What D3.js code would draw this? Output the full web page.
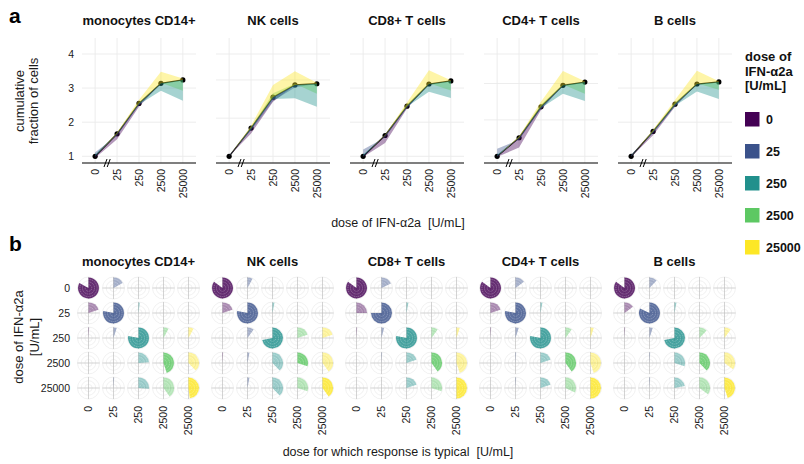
<!DOCTYPE html>
<html>
<head>
<meta charset="utf-8">
<script src="https://cdn.jsdelivr.net/npm/d3@7"></script>
<style>
  html, body { margin: 0; padding: 0; background: #fff; }
  svg { display: block; font-family: "Liberation Sans", Arial, Helvetica, sans-serif; }
</style>
</head>
<body>
<svg id="chart" width="804" height="464"></svg>
<script>
// ---- data ----------------------------------------------------------------
const cellTypes = ["monocytes CD14+", "NK cells", "CD8+ T cells", "CD4+ T cells", "B cells"];
const doses = ["0", "25", "250", "2500", "25000"];
const doseColors = ["#440154", "#3B528B", "#21908C", "#5DC863", "#FDE725"];

// panel a: cumulative fraction of cells (black line) per cell type
const meanLine = [
  [1.00, 1.66, 2.55, 3.14, 3.24],
  [1.00, 1.74, 2.55, 2.87, 2.90],
  [1.00, 1.61, 2.47, 3.12, 3.21],
  [1.00, 1.51, 2.36, 2.95, 3.04],
  [1.00, 1.73, 2.53, 3.12, 3.18]
];
// per-dose curves bounding the shaded ribbons (rows: dose 0 .. 25000)
const bandMono = [
  [0.95, 1.50, 2.45, 3.14, 3.24],
  [1.12, 1.60, 2.50, 3.14, 3.24],
  [1.05, 1.66, 2.52, 2.92, 2.63],
  [1.00, 1.68, 2.58, 3.16, 2.92],
  [1.00, 1.70, 2.66, 3.48, 3.28]
];
const bandNK = [
  [1.00, 1.60, 2.43, 2.87, 2.90],
  [1.03, 1.68, 2.45, 2.80, 2.90],
  [1.00, 1.70, 2.50, 2.52, 2.30],
  [1.00, 1.76, 2.65, 2.90, 2.64],
  [1.00, 1.80, 2.87, 3.23, 2.93]
];
const bandCD8 = [
  [0.98, 1.39, 2.40, 3.12, 3.21],
  [1.20, 1.55, 2.42, 3.12, 3.21],
  [1.05, 1.60, 2.45, 2.89, 2.71],
  [1.00, 1.62, 2.52, 3.14, 2.93],
  [1.00, 1.63, 2.58, 3.52, 3.23]
];
const bandCD4 = [
  [0.98, 1.24, 2.27, 2.95, 3.04],
  [1.21, 1.45, 2.30, 2.95, 3.04],
  [1.05, 1.50, 2.33, 2.72, 2.52],
  [1.00, 1.53, 2.42, 2.97, 2.72],
  [1.00, 1.55, 2.50, 3.34, 3.06]
];
const bandB = [
  [0.98, 1.62, 2.45, 3.12, 3.18],
  [1.05, 1.68, 2.47, 3.12, 3.18],
  [1.02, 1.70, 2.48, 2.90, 2.68],
  [1.00, 1.75, 2.58, 3.14, 2.95],
  [1.00, 1.78, 2.65, 3.51, 3.20]
];
const bands = [bandMono, bandNK, bandCD8, bandCD4, bandB];
const yTicks = [1, 2, 3, 4];
// upper end of each panel's y range
const yTop = [4, 3.68, 4, 3.81, 4];

// panel b: fraction of cells at a dose (row) whose response is typical of a dose (column)
const fracMono = [
  [0.83, 0.17, 0.00, 0.00, 0.00],
  [0.20, 0.78, 0.02, 0.00, 0.00],
  [0.01, 0.05, 0.78, 0.08, 0.08],
  [0.00, 0.00, 0.24, 0.45, 0.38],
  [0.00, 0.01, 0.26, 0.40, 0.48]
];
const fracNK = [
  [0.85, 0.08, 0.00, 0.00, 0.00],
  [0.20, 0.78, 0.03, 0.00, 0.00],
  [0.00, 0.10, 0.72, 0.20, 0.20],
  [0.01, 0.03, 0.38, 0.30, 0.40],
  [0.00, 0.03, 0.38, 0.30, 0.40]
];
const fracCD8 = [
  [0.85, 0.18, 0.00, 0.00, 0.00],
  [0.25, 0.75, 0.03, 0.00, 0.00],
  [0.01, 0.04, 0.78, 0.10, 0.05],
  [0.00, 0.01, 0.20, 0.40, 0.45],
  [0.00, 0.00, 0.20, 0.30, 0.50]
];
const fracCD4 = [
  [0.85, 0.15, 0.00, 0.00, 0.00],
  [0.20, 0.78, 0.03, 0.00, 0.00],
  [0.01, 0.05, 0.78, 0.10, 0.05],
  [0.00, 0.01, 0.20, 0.40, 0.45],
  [0.00, 0.01, 0.20, 0.32, 0.50]
];
const fracB = [
  [0.85, 0.12, 0.00, 0.00, 0.00],
  [0.15, 0.82, 0.03, 0.00, 0.00],
  [0.01, 0.05, 0.72, 0.12, 0.10],
  [0.00, 0.01, 0.30, 0.38, 0.35],
  [0.00, 0.01, 0.22, 0.35, 0.45]
];
const fractions = [fracMono, fracNK, fracCD8, fracCD4, fracB];

// ---- layout --------------------------------------------------------------
const svg = d3.select("#chart");
const ink = "#1a1a1a";
const gridCol = "#ebebeb";

// panel letters
svg.append("text").attr("x", 9).attr("y", 23).attr("font-size", 21).attr("font-weight", "bold").attr("fill", "#000").text("a");
svg.append("text").attr("x", 9).attr("y", 251).attr("font-size", 21).attr("font-weight", "bold").attr("fill", "#000").text("b");

// ---- panel a: line + ribbons --------------------------------------------
const aLeft0 = 82, aStep = 134, aWidth = 114;
const aTopPx = 38, aAxisY = 163;
const yOnePx = 156.3, yTopPx = 54;

cellTypes.forEach((ct, p) => {
  const left = aLeft0 + p * aStep;
  const x = d3.scalePoint().domain(doses).range([left, left + aWidth]).padding(0.6);
  const y = d3.scaleLinear().domain([1, yTop[p]]).range([yOnePx, yTopPx]);
  const g = svg.append("g");

  // grid
  const hLines = yTicks.filter(v => v <= yTop[p]);
  if (yTop[p] < 4) hLines.push(yTop[p]);
  g.selectAll("line.h").data(hLines).join("line")
    .attr("x1", left).attr("x2", left + aWidth)
    .attr("y1", d => y(d)).attr("y2", d => y(d))
    .attr("stroke", gridCol).attr("stroke-width", 0.9);
  g.selectAll("line.v").data(doses).join("line")
    .attr("x1", d => x(d)).attr("x2", d => x(d))
    .attr("y1", aTopPx).attr("y2", aAxisY)
    .attr("stroke", gridCol).attr("stroke-width", 0.9);

  // title
  svg.append("text").attr("x", left + aWidth / 2).attr("y", 25)
    .attr("text-anchor", "middle").attr("font-size", 13).attr("font-weight", "bold")
    .attr("fill", "#111").text(ct);

  // mean line and points
  const pts = meanLine[p].map((v, i) => [x(doses[i]), y(v)]);
  g.append("path").attr("d", d3.line()(pts)).attr("fill", "none")
    .attr("stroke", "#000").attr("stroke-width", 1.3);
  g.selectAll("circle.pt").data(pts).join("circle")
    .attr("cx", d => d[0]).attr("cy", d => d[1]).attr("r", 2.6).attr("fill", "#000");

  // ribbons between the mean line and each dose curve
  const area = d3.area().x(d => d.x).y0(d => y(d.m)).y1(d => y(d.v));
  doses.forEach((dose, k) => {
    const rows = bands[p][k].map((v, i) => ({ x: x(doses[i]), m: meanLine[p][i], v }));
    g.append("path").attr("d", area(rows)).attr("fill", doseColors[k]).attr("fill-opacity", 0.4);
  });

  // axis line with break mark
  g.append("line").attr("x1", left).attr("x2", left + aWidth)
    .attr("y1", aAxisY).attr("y2", aAxisY).attr("stroke", "#000").attr("stroke-width", 1.2);
  const bx = (x(doses[0]) + x(doses[1])) / 2 + 1;
  [-1.6, 1.6].forEach(dx => {
    g.append("line").attr("x1", bx + dx - 1.5).attr("y1", aAxisY + 4)
      .attr("x2", bx + dx + 1.5).attr("y2", aAxisY - 4)
      .attr("stroke", "#000").attr("stroke-width", 1);
  });

  // x tick labels
  g.selectAll("text.xt").data(doses).join("text")
    .attr("transform", d => `translate(${x(d)},${aAxisY + 6}) rotate(-90)`)
    .attr("text-anchor", "end").attr("dy", "0.35em")
    .attr("font-size", 10.5).attr("fill", ink).text(d => d);

  // y tick labels only on the first panel
  if (p === 0) {
    g.selectAll("text.yt").data(yTicks).join("text")
      .attr("x", left - 8).attr("y", d => y(d)).attr("dy", "0.35em")
      .attr("text-anchor", "end").attr("font-size", 10.5).attr("fill", ink).text(d => d);
  }
});

// panel a axis titles
svg.append("text").attr("transform", "translate(23.5,101) rotate(-90)")
  .attr("text-anchor", "middle").attr("font-size", 13).attr("fill", ink).text("cumulative");
svg.append("text").attr("transform", "translate(38,101) rotate(-90)")
  .attr("text-anchor", "middle").attr("font-size", 13).attr("fill", ink).text("fraction of cells");
svg.append("text").attr("x", 398).attr("y", 227).attr("text-anchor", "middle")
  .attr("font-size", 12.5).attr("fill", ink).text("dose of IFN-\u03b12a\u00a0\u00a0[U/mL]");

// ---- legend ----------------------------------------------------------------
const lg = svg.append("g");
["dose of", "IFN-\u03b12a", "[U/mL]"].forEach((t, i) => {
  lg.append("text").attr("x", 745).attr("y", 61 + i * 14.5)
    .attr("font-size", 13).attr("font-weight", "bold").attr("fill", "#111").text(t);
});
const ly = d3.scalePoint().domain(doses).range([119, 247]);
lg.selectAll("rect").data(doses).join("rect")
  .attr("x", 745).attr("y", d => ly(d) - 7).attr("width", 14.5).attr("height", 14.5)
  .attr("fill", (d, i) => doseColors[i]);
lg.selectAll("text.lab").data(doses).join("text")
  .attr("x", 766).attr("y", d => ly(d) + 0.5).attr("dy", "0.35em")
  .attr("font-size", 12.5).attr("font-weight", "bold").attr("fill", "#111").text(d => d);

// ---- panel b: polar mini-charts -------------------------------------------
const bLeft0 = 76, bStep = 134, bWidth = 125;
const bTop = 275.5, bHeight = 125;
const R = 11;
const arc = d3.arc();

cellTypes.forEach((ct, p) => {
  const left = bLeft0 + p * bStep;
  const cx = d3.scaleBand().domain(doses).range([left, left + bWidth]);
  const cy = d3.scaleBand().domain(doses).range([bTop, bTop + bHeight]);
  const g = svg.append("g");

  svg.append("text").attr("x", left + bWidth / 2).attr("y", 266)
    .attr("text-anchor", "middle").attr("font-size", 13).attr("font-weight", "bold")
    .attr("fill", "#111").text(ct);

  doses.forEach((rowDose, r) => {
    doses.forEach((colDose, c) => {
      const x0 = cx(colDose) + cx.bandwidth() / 2;
      const y0 = cy(rowDose) + cy.bandwidth() / 2;
      const cell = g.append("g").attr("transform", `translate(${x0},${y0})`);
      // polar grid
      [0.33, 0.66, 1].forEach(f => {
        cell.append("circle").attr("r", R * f).attr("fill", "none")
          .attr("stroke", "#e8e8e8").attr("stroke-width", 0.6);
      });
      cell.append("line").attr("x1", -R).attr("x2", R).attr("y1", 0).attr("y2", 0)
        .attr("stroke", "#c0c0c0").attr("stroke-width", 0.7);
      cell.append("line").attr("y1", -R).attr("y2", R).attr("x1", 0).attr("x2", 0)
        .attr("stroke", "#c0c0c0").attr("stroke-width", 0.7);

      const f = fractions[p][r][c];
      if (f > 0) {
        const end = f * 2 * Math.PI;
        cell.append("path")
          .attr("d", arc({ innerRadius: 0, outerRadius: R * 0.95, startAngle: 0, endAngle: end }))
          .attr("fill", doseColors[c]).attr("fill-opacity", r === c ? 0.82 : 0.45);
        if (f > 0.05) {
          [0.3, 0.55, 0.78].forEach(rf => {
            cell.append("path")
              .attr("d", arc({ innerRadius: R * rf, outerRadius: R * rf, startAngle: 0, endAngle: end }))
              .attr("fill", "none").attr("stroke", "#fff").attr("stroke-opacity", 0.35)
              .attr("stroke-width", 0.5).attr("stroke-dasharray", "1,1");
          });
        }
      }
    });
  });

  // x labels
  g.selectAll("text.xt").data(doses).join("text")
    .attr("transform", d => `translate(${cx(d) + cx.bandwidth() / 2},${406}) rotate(-90)`)
    .attr("text-anchor", "end").attr("dy", "0.35em")
    .attr("font-size", 10.5).attr("fill", ink).text(d => d);

  if (p === 0) {
    g.selectAll("text.yt").data(doses).join("text")
      .attr("x", left - 6).attr("y", d => cy(d) + cy.bandwidth() / 2).attr("dy", "0.35em")
      .attr("text-anchor", "end").attr("font-size", 10.5).attr("fill", ink).text(d => d);
  }
});

// panel b axis titles
svg.append("text").attr("transform", "translate(22.5,337) rotate(-90)")
  .attr("text-anchor", "middle").attr("font-size", 13).attr("fill", ink).text("dose of IFN-\u03b12a");
svg.append("text").attr("transform", "translate(38.5,337) rotate(-90)")
  .attr("text-anchor", "middle").attr("font-size", 13).attr("fill", ink).text("[U/mL]");
svg.append("text").attr("x", 398).attr("y", 456).attr("text-anchor", "middle")
  .attr("font-size", 12.5).attr("fill", ink).text("dose for which response is typical\u00a0\u00a0[U/mL]");
</script>
</body>
</html>
